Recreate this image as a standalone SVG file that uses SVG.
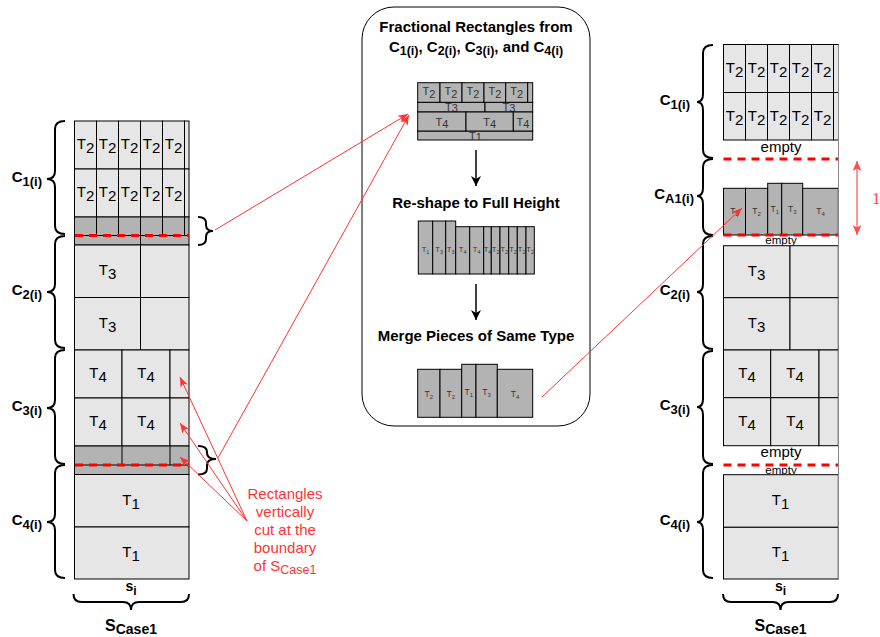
<svg xmlns="http://www.w3.org/2000/svg" width="880" height="637" viewBox="0 0 880 637">
<style>
.f{font-family:"Liberation Sans",Arial,Helvetica,sans-serif}
.lt{fill:#e6e6e6;stroke:#000;stroke-width:1}
.gr{fill:#b3b3b3;stroke:#000;stroke-width:1}
.ln{stroke:#000;stroke-width:1;fill:none}
.rd{stroke:#ff0000;stroke-width:3;stroke-dasharray:8 6;fill:none}
.br{stroke:#000;stroke-width:2;fill:none}
.tl{font-size:15px;fill:#000;text-anchor:middle}
.tm{font-size:11px;fill:#333;text-anchor:middle}
.ts{font-size:7.5px;fill:#333;text-anchor:middle}
.tq{font-size:8.5px;fill:#333;text-anchor:middle}
.lab{font-weight:bold;font-size:15px;text-anchor:end;fill:#000}
.ttl{font-weight:bold;font-size:15px;text-anchor:middle;fill:#000}
.rt{fill:#ff3333;font-size:15px;text-anchor:middle}
.rl{stroke:#ff3333;stroke-width:1;fill:none}
.emp{font-size:15px;text-anchor:middle;fill:#000}
</style>
<defs>
<marker id="ar" markerWidth="11" markerHeight="9" refX="10" refY="4.5" orient="auto" markerUnits="userSpaceOnUse"><path d="M0,0.5 L10,4.5 L0,8.5 L2.5,4.5 z" fill="#ff3333"/></marker>
<marker id="ab" markerWidth="12" markerHeight="12" refX="10" refY="5" orient="auto" markerUnits="userSpaceOnUse"><path d="M0,0 L10,5 L0,10 L3,5 z" fill="#000"/></marker>
<marker id="ad" markerWidth="11" markerHeight="9" refX="10" refY="4.5" orient="auto-start-reverse" markerUnits="userSpaceOnUse"><path d="M0,0 L10,4.5 L0,9 L2.5,4.5 z" fill="#ff4d4d"/></marker>
<clipPath id="c3"><rect x="417.7" y="102.5" width="115" height="9.5"/></clipPath>
<clipPath id="c1"><rect x="417.7" y="131.5" width="115" height="8.5"/></clipPath>
<clipPath id="e1"><rect x="723" y="235" width="116" height="10.7"/></clipPath>
<clipPath id="e2"><rect x="723" y="465" width="116" height="9.7"/></clipPath>
</defs>

<g id="left-column">
<g id="left-c1">
<rect class="lt" x="74.5" y="121" width="22" height="48"/><rect class="lt" x="96.5" y="121" width="22" height="48"/><rect class="lt" x="118.5" y="121" width="22" height="48"/><rect class="lt" x="140.5" y="121" width="22" height="48"/><rect class="lt" x="162.5" y="121" width="22" height="48"/><rect class="lt" x="184.5" y="121" width="4.5" height="48"/>
<rect class="lt" x="74.5" y="169" width="22" height="48"/><rect class="lt" x="96.5" y="169" width="22" height="48"/><rect class="lt" x="118.5" y="169" width="22" height="48"/><rect class="lt" x="140.5" y="169" width="22" height="48"/><rect class="lt" x="162.5" y="169" width="22" height="48"/><rect class="lt" x="184.5" y="169" width="4.5" height="48"/>
<text class="f tl" x="85.5" y="149">T<tspan dy="4">2</tspan></text><text class="f tl" x="107.5" y="149">T<tspan dy="4">2</tspan></text><text class="f tl" x="129.5" y="149">T<tspan dy="4">2</tspan></text><text class="f tl" x="151.5" y="149">T<tspan dy="4">2</tspan></text><text class="f tl" x="173.5" y="149">T<tspan dy="4">2</tspan></text>
<text class="f tl" x="85.5" y="197">T<tspan dy="4">2</tspan></text><text class="f tl" x="107.5" y="197">T<tspan dy="4">2</tspan></text><text class="f tl" x="129.5" y="197">T<tspan dy="4">2</tspan></text><text class="f tl" x="151.5" y="197">T<tspan dy="4">2</tspan></text><text class="f tl" x="173.5" y="197">T<tspan dy="4">2</tspan></text>
<rect class="gr" x="74.5" y="217" width="114.5" height="28"/>
<path class="ln" d="M96.5,217V235.5M118.5,217V235.5M140.5,217V245M162.5,217V235.5M184.5,217V235.5M74.5,235.5H189"/>
<line class="rd" x1="75" y1="235.5" x2="189" y2="235.5"/>
</g>
<g id="left-c2">
<rect class="lt" x="74.5" y="245" width="66" height="52.5"/><rect class="lt" x="140.5" y="245" width="48.5" height="52.5"/>
<rect class="lt" x="74.5" y="297.5" width="66" height="52.5"/><rect class="lt" x="140.5" y="297.5" width="48.5" height="52.5"/>
<text class="f tl" x="107.5" y="275">T<tspan dy="4">3</tspan></text>
<text class="f tl" x="107.5" y="328">T<tspan dy="4">3</tspan></text>
</g>
<g id="left-c3">
<rect class="lt" x="74.5" y="350" width="47.5" height="48"/><rect class="lt" x="122" y="350" width="48" height="48"/><rect class="lt" x="170" y="350" width="19" height="48"/>
<rect class="lt" x="74.5" y="398" width="47.5" height="48"/><rect class="lt" x="122" y="398" width="48" height="48"/><rect class="lt" x="170" y="398" width="19" height="48"/>
<text class="f tl" x="98" y="378">T<tspan dy="4">4</tspan></text><text class="f tl" x="146" y="378">T<tspan dy="4">4</tspan></text>
<text class="f tl" x="98" y="426">T<tspan dy="4">4</tspan></text><text class="f tl" x="146" y="426">T<tspan dy="4">4</tspan></text>
<rect class="gr" x="74.5" y="446" width="114.5" height="28.5"/>
<path class="ln" d="M122,446V465M170,446V465M74.5,465H189"/>
<line class="rd" x1="75" y1="465" x2="189" y2="465"/>
</g>
<g id="left-c4">
<rect class="lt" x="74.5" y="474.5" width="114.5" height="52.5"/>
<rect class="lt" x="74.5" y="527" width="114.5" height="52"/>
<text class="f tl" x="131" y="505">T<tspan dy="4">1</tspan></text>
<text class="f tl" x="131" y="557">T<tspan dy="4">1</tspan></text>
</g>
</g>

<g id="left-braces">
<path class="br" d="M65,121 Q55,121 55,129 L55,171 Q55,179 47,179 Q55,179 55,187 L55,226 Q55,234 65,234"/>
<path class="br" d="M65,236 Q55,236 55,244 L55,284 Q55,292 47,292 Q55,292 55,300 L55,340 Q55,348 65,348"/>
<path class="br" d="M65,350 Q55,350 55,358 L55,400 Q55,408 47,408 Q55,408 55,416 L55,456 Q55,464 65,464"/>
<path class="br" d="M65,465 Q55,465 55,473 L55,514 Q55,522 47,522 Q55,522 55,530 L55,570 Q55,578 65,578"/>
<path class="br" d="M198,217 Q206,217 206,223 L206,225 Q206,231 213,231 Q206,231 206,237 L206,239 Q206,245 198,245"/>
<path class="br" d="M198,446 Q207,446 207,452 L207,453 Q207,459 216,459 Q207,459 207,465 L207,468.5 Q207,474.5 198,474.5"/>
<path class="br" d="M73.5,594 Q73.5,602 81.5,602 L123,602 Q131,602 131,610 Q131,602 139,602 L181,602 Q189,602 189,594"/>
<text class="f lab" x="42" y="182">C<tspan font-size="13" dy="4">1(i)</tspan></text>
<text class="f lab" x="42" y="295">C<tspan font-size="13" dy="4">2(i)</tspan></text>
<text class="f lab" x="42" y="411">C<tspan font-size="13" dy="4">3(i)</tspan></text>
<text class="f lab" x="42" y="525">C<tspan font-size="13" dy="4">4(i)</tspan></text>
<text class="f" font-weight="bold" font-size="14" x="131" y="591" text-anchor="middle">s<tspan font-size="12" dy="4">i</tspan></text>
<text class="f" font-weight="bold" font-size="16" x="131" y="631" text-anchor="middle">S<tspan font-size="14" dy="3">Case1</tspan></text>
</g>

<g id="annotation">
<text class="f rt" x="285" y="499">Rectangles</text>
<text class="f rt" x="285" y="517">vertically</text>
<text class="f rt" x="285" y="535">cut at the</text>
<text class="f rt" x="285" y="553">boundary</text>
<text class="f rt" x="285" y="570.5">of S<tspan font-size="12.5" dy="3">Case1</tspan></text>
</g>

<g id="center-panel">
<rect x="362" y="7" width="228" height="419" rx="32" ry="32" fill="#fff" stroke="#000" stroke-width="1"/>
<text class="f ttl" x="476" y="31.5">Fractional Rectangles from</text>
<text class="f ttl" x="476" y="51.5">C<tspan font-size="12.5" dy="3">1(i)</tspan><tspan dy="-3">, C</tspan><tspan font-size="12.5" dy="3">2(i)</tspan><tspan dy="-3">, C</tspan><tspan font-size="12.5" dy="3">3(i)</tspan><tspan dy="-3">, and C</tspan><tspan font-size="12.5" dy="3">4(i)</tspan></text>
<g id="fractional">
<rect class="gr" x="417.7" y="131" width="115" height="9"/>
<text class="f tm" x="475.5" y="139.5" clip-path="url(#c1)">T<tspan dy="1.5">1</tspan></text>
<rect class="gr" x="417.7" y="102.3" width="67.3" height="9.7"/><rect class="gr" x="485" y="102.3" width="47.7" height="9.7"/>
<text class="f tm" x="451.5" y="110.5" clip-path="url(#c3)">T<tspan dy="1.5">3</tspan></text>
<text class="f tm" x="509" y="110.5" clip-path="url(#c3)">T<tspan dy="1.5">3</tspan></text>
<rect class="gr" x="417.7" y="82.7" width="22.3" height="19.6"/><rect class="gr" x="440" y="82.7" width="22" height="19.6"/><rect class="gr" x="462" y="82.7" width="22" height="19.6"/><rect class="gr" x="484" y="82.7" width="21.7" height="19.6"/><rect class="gr" x="505.7" y="82.7" width="22" height="19.6"/><rect class="gr" x="527.7" y="82.7" width="5" height="19.6"/>
<text class="f tm" x="429" y="95">T<tspan dy="2.5">2</tspan></text><text class="f tm" x="451" y="95">T<tspan dy="2.5">2</tspan></text><text class="f tm" x="473" y="95">T<tspan dy="2.5">2</tspan></text><text class="f tm" x="495" y="95">T<tspan dy="2.5">2</tspan></text><text class="f tm" x="516.7" y="95">T<tspan dy="2.5">2</tspan></text>
<rect class="gr" x="417.7" y="112" width="48.3" height="19"/><rect class="gr" x="466" y="112" width="47.3" height="19"/><rect class="gr" x="513.3" y="112" width="19.4" height="19"/>
<text class="f tm" x="442" y="125.5">T<tspan dy="2.5">4</tspan></text><text class="f tm" x="489.7" y="125.5">T<tspan dy="2.5">4</tspan></text><text class="f tm" x="523" y="125.5">T<tspan dy="2.5">4</tspan></text>
</g>
<text class="f ttl" x="476" y="207.5">Re-shape to Full Height</text>
<g id="reshaped">
<rect class="gr" x="418.3" y="221" width="14.4" height="53"/><rect class="gr" x="432.7" y="221" width="13" height="53"/><rect class="gr" x="445.7" y="221" width="10" height="53"/>
<rect class="gr" x="455.7" y="226.7" width="14" height="47.3"/><rect class="gr" x="469.7" y="226.7" width="14" height="47.3"/><rect class="gr" x="483.7" y="226.7" width="7.6" height="47.3"/><rect class="gr" x="491.3" y="226.7" width="8.7" height="47.3"/><rect class="gr" x="500" y="226.7" width="8.7" height="47.3"/><rect class="gr" x="508.7" y="226.7" width="8.6" height="47.3"/><rect class="gr" x="517.3" y="226.7" width="8.7" height="47.3"/><rect class="gr" x="526" y="226.7" width="8.3" height="47.3"/>
<text class="f ts" x="425.5" y="252">T<tspan font-size="5.5" dy="1.5">1</tspan></text>
<text class="f ts" x="439.2" y="252">T<tspan font-size="5.5" dy="1.5">3</tspan></text>
<text class="f ts" x="450.7" y="252">T<tspan font-size="5.5" dy="1.5">3</tspan></text>
<text class="f ts" x="462.7" y="252">T<tspan font-size="5.5" dy="1.5">4</tspan></text>
<text class="f ts" x="476.7" y="252">T<tspan font-size="5.5" dy="1.5">4</tspan></text>
<text class="f ts" x="487.5" y="252">T<tspan font-size="5.5" dy="1.5">4</tspan></text>
<text class="f ts" x="495.7" y="252">T<tspan font-size="5.5" dy="1.5">2</tspan></text>
<text class="f ts" x="504.3" y="252">T<tspan font-size="5.5" dy="1.5">2</tspan></text>
<text class="f ts" x="513" y="252">T<tspan font-size="5.5" dy="1.5">2</tspan></text>
<text class="f ts" x="521.7" y="252">T<tspan font-size="5.5" dy="1.5">2</tspan></text>
<text class="f ts" x="530.2" y="252">T<tspan font-size="5.5" dy="1.5">2</tspan></text>
</g>
<text class="f ttl" x="476" y="341">Merge Pieces of Same Type</text>
<g id="merged">
<rect class="gr" x="417.7" y="369.3" width="22.3" height="48"/><rect class="gr" x="440" y="369.3" width="21.7" height="48"/><rect class="gr" x="461.7" y="364.3" width="14.3" height="53"/><rect class="gr" x="476" y="364.3" width="21.3" height="53"/><rect class="gr" x="497.3" y="369.3" width="35.4" height="48"/>
<text class="f tq" x="428.8" y="397">T<tspan font-size="6" dy="2">2</tspan></text>
<text class="f tq" x="450.8" y="397">T<tspan font-size="6" dy="2">2</tspan></text>
<text class="f tq" x="468.8" y="395">T<tspan font-size="6" dy="2">1</tspan></text>
<text class="f tq" x="486.6" y="395">T<tspan font-size="6" dy="2">3</tspan></text>
<text class="f tq" x="515" y="397">T<tspan font-size="6" dy="2">4</tspan></text>
</g>
</g>

<g id="right-column">
<g id="right-c1">
<rect class="lt" x="723.5" y="44.5" width="22" height="48"/><rect class="lt" x="745.5" y="44.5" width="22" height="48"/><rect class="lt" x="767.5" y="44.5" width="22" height="48"/><rect class="lt" x="789.5" y="44.5" width="22" height="48"/><rect class="lt" x="811.5" y="44.5" width="22" height="48"/><rect class="lt" x="833.5" y="44.5" width="5" height="48"/>
<rect class="lt" x="723.5" y="92.5" width="22" height="47.5"/><rect class="lt" x="745.5" y="92.5" width="22" height="47.5"/><rect class="lt" x="767.5" y="92.5" width="22" height="47.5"/><rect class="lt" x="789.5" y="92.5" width="22" height="47.5"/><rect class="lt" x="811.5" y="92.5" width="22" height="47.5"/><rect class="lt" x="833.5" y="92.5" width="5" height="47.5"/>
<text class="f tl" x="734.5" y="72.5">T<tspan dy="4">2</tspan></text><text class="f tl" x="756.5" y="72.5">T<tspan dy="4">2</tspan></text><text class="f tl" x="778.5" y="72.5">T<tspan dy="4">2</tspan></text><text class="f tl" x="800.5" y="72.5">T<tspan dy="4">2</tspan></text><text class="f tl" x="822.5" y="72.5">T<tspan dy="4">2</tspan></text>
<text class="f tl" x="734.5" y="120.5">T<tspan dy="4">2</tspan></text><text class="f tl" x="756.5" y="120.5">T<tspan dy="4">2</tspan></text><text class="f tl" x="778.5" y="120.5">T<tspan dy="4">2</tspan></text><text class="f tl" x="800.5" y="120.5">T<tspan dy="4">2</tspan></text><text class="f tl" x="822.5" y="120.5">T<tspan dy="4">2</tspan></text>
<text class="f emp" x="781" y="151.5">empty</text>
</g>
<g id="right-ca1">
<line class="rd" x1="723.5" y1="159" x2="838.5" y2="159"/>
<rect class="gr" x="723.5" y="188.3" width="22" height="46.7"/><rect class="gr" x="745.5" y="188.3" width="22.2" height="46.7"/><rect class="gr" x="767.7" y="183.3" width="14" height="51.7"/><rect class="gr" x="781.7" y="183.3" width="21" height="51.7"/><rect class="gr" x="802.7" y="188.3" width="35.6" height="46.7"/>
<text class="f tq" x="734.5" y="214">T<tspan font-size="6" dy="2">2</tspan></text>
<text class="f tq" x="756.6" y="214">T<tspan font-size="6" dy="2">2</tspan></text>
<text class="f tq" x="774.7" y="212">T<tspan font-size="6" dy="2">1</tspan></text>
<text class="f tq" x="792.2" y="212">T<tspan font-size="6" dy="2">3</tspan></text>
<text class="f tq" x="820.5" y="214">T<tspan font-size="6" dy="2">4</tspan></text>
<text class="f" font-size="11.5" text-anchor="middle" x="781" y="244" clip-path="url(#e1)">empty</text>
<line class="rd" x1="723.5" y1="235" x2="838.5" y2="235"/>
</g>
<g id="right-c2">
<rect class="lt" x="723.5" y="245.7" width="66.5" height="52"/><rect class="lt" x="790" y="245.7" width="48.3" height="52"/>
<rect class="lt" x="723.5" y="297.7" width="66.5" height="52.3"/><rect class="lt" x="790" y="297.7" width="48.3" height="52.3"/>
<text class="f tl" x="756.5" y="275.5">T<tspan dy="4">3</tspan></text>
<text class="f tl" x="756.5" y="328">T<tspan dy="4">3</tspan></text>
</g>
<g id="right-c3">
<rect class="lt" x="723.5" y="350" width="47.2" height="47.7"/><rect class="lt" x="770.7" y="350" width="48.3" height="47.7"/><rect class="lt" x="819" y="350" width="19.3" height="47.7"/>
<rect class="lt" x="723.5" y="397.7" width="47.2" height="48"/><rect class="lt" x="770.7" y="397.7" width="48.3" height="48"/><rect class="lt" x="819" y="397.7" width="19.3" height="48"/>
<text class="f tl" x="747" y="378">T<tspan dy="4">4</tspan></text><text class="f tl" x="795" y="378">T<tspan dy="4">4</tspan></text>
<text class="f tl" x="747" y="426">T<tspan dy="4">4</tspan></text><text class="f tl" x="795" y="426">T<tspan dy="4">4</tspan></text>
<text class="f emp" x="781" y="457">empty</text>
<text class="f" font-size="11.5" text-anchor="middle" x="781" y="474" clip-path="url(#e2)">empty</text>
<line class="rd" x1="723.5" y1="465" x2="839" y2="465"/>
</g>
<g id="right-c4">
<rect class="lt" x="723.5" y="474.7" width="114.8" height="52.6"/>
<rect class="lt" x="723.5" y="527.3" width="114.8" height="51.7"/>
<text class="f tl" x="780.5" y="505">T<tspan dy="4">1</tspan></text>
<text class="f tl" x="780.5" y="557">T<tspan dy="4">1</tspan></text>
</g>
<line x1="838.5" y1="44.5" x2="838.5" y2="579" stroke="#888" stroke-width="1"/>
</g>

<g id="right-braces">
<path class="br" d="M713,45 Q703,45 703,53 L703,94 Q703,102 697,102 Q703,102 703,110 L703,150 Q703,158 713,158"/>
<path class="br" d="M713,159 Q703,159 703,167 L703,188 Q703,196 697,196 Q703,196 703,204 L703,227 Q703,235 713,235"/>
<path class="br" d="M713,236 Q703,236 703,244 L703,284 Q703,292 697,292 Q703,292 703,300 L703,341 Q703,349 713,349"/>
<path class="br" d="M713,351 Q703,351 703,359 L703,399 Q703,407 697,407 Q703,407 703,415 L703,456 Q703,464 713,464"/>
<path class="br" d="M713,465 Q703,465 703,473 L703,514 Q703,522 697,522 Q703,522 703,530 L703,570 Q703,578 713,578"/>
<path class="br" d="M723,594 Q723,602 731,602 L772.5,602 Q780.5,602 780.5,610 Q780.5,602 788.5,602 L830,602 Q838,602 838,594"/>
<text class="f lab" x="690" y="104.5">C<tspan font-size="13" dy="4">1(i)</tspan></text>
<text class="f lab" x="694" y="198.5">C<tspan font-size="13" dy="4">A1(i)</tspan></text>
<text class="f lab" x="690" y="294.5">C<tspan font-size="13" dy="4">2(i)</tspan></text>
<text class="f lab" x="690" y="409.5">C<tspan font-size="13" dy="4">3(i)</tspan></text>
<text class="f lab" x="690" y="524.5">C<tspan font-size="13" dy="4">4(i)</tspan></text>
<text class="f" font-weight="bold" font-size="14" x="780.5" y="591" text-anchor="middle">s<tspan font-size="12" dy="4">i</tspan></text>
<text class="f" font-weight="bold" font-size="16" x="780.5" y="631" text-anchor="middle">S<tspan font-size="14" dy="3">Case1</tspan></text>
<text font-family="'Liberation Serif','Times New Roman',serif" font-size="17" fill="#ff4d4d" x="872" y="204">1</text>
</g>

<g id="connectors">
<line class="rl" x1="215" y1="230" x2="408" y2="114" marker-end="url(#ar)"/>
<line class="rl" x1="218" y1="458" x2="409" y2="115" marker-end="url(#ar)"/>
<line class="rl" x1="247" y1="521" x2="180" y2="377" marker-end="url(#ar)"/>
<line class="rl" x1="247" y1="521" x2="180" y2="423" marker-end="url(#ar)"/>
<line class="rl" x1="247" y1="521" x2="180" y2="457" marker-end="url(#ar)"/>
<line class="rl" x1="542" y1="397" x2="742" y2="208" marker-end="url(#ar)"/>
<line x1="476" y1="150" x2="476" y2="186" stroke="#000" stroke-width="1.5" marker-end="url(#ab)"/>
<line x1="476" y1="284" x2="476" y2="320" stroke="#000" stroke-width="1.5" marker-end="url(#ab)"/>
<line x1="857" y1="161" x2="857" y2="235" stroke="#ff4d4d" stroke-width="1.2" marker-start="url(#ad)" marker-end="url(#ad)"/>
</g>
</svg>
